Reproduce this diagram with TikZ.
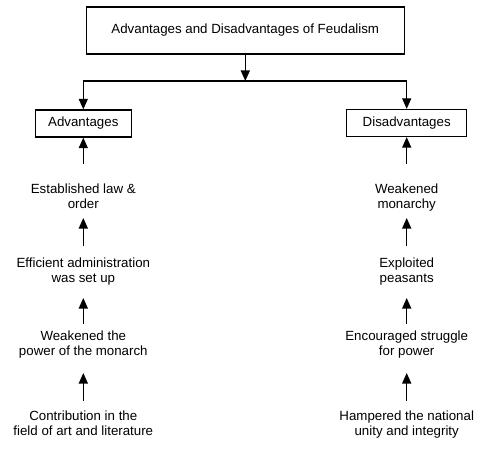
\documentclass[tikz,border=0pt]{standalone}
\usepackage{fontspec}
\setmainfont{Liberation Sans}
\usetikzlibrary{arrows.meta}

\begin{document}
\begin{tikzpicture}[x=1pt,y=-1pt,line width=1.3pt,
    box/.style={draw,rectangle,inner sep=0pt,font=\fontsize{13.3}{15}\selectfont},
    item/.style={align=center,anchor=north,inner sep=0pt,font=\fontsize{13.3}{15}\selectfont},
    arr/.style={-{Triangle[length=10.5pt,width=9pt]}}]
    \useasboundingbox (0,0) rectangle (489,454);
    \node[box,minimum width=318pt,minimum height=47pt] (title) at (245.3,30.5)
      {Advantages and Disadvantages of Feudalism};
    \node[box,minimum width=96pt,minimum height=27pt] (adv) at (83.3,123.5) {Advantages};
    \node[box,minimum width=120pt,minimum height=27pt] (dis) at (406.7,123) {Disadvantages};
    \coordinate (split) at (245.3,81);
    \draw[arr] (title.south) -- (split);
    \draw[arr] (split) -| (adv.north);
    \draw[arr] (split) -| (dis.north);
    \foreach \n/\y/\advtxt/\distxt in {
     1/183/{Established law \&\\order}/{Weakened\\monarchy},
     2/257/{Efficient administration\\was set up}/{Exploited\\peasants},
     3/330/{Weakened the\\power of the monarch}/{Encouraged struggle\\for power},
     4/410/{Contribution in the\\field of art and literature}/{Hampered the national\\unity and integrity}} {
      \node[item] (a\n) at (83.3,\y) {\advtxt};
      \node[item] (d\n) at (406.7,\y) {\distxt};
     }
    \draw[arr] ([yshift=19pt]a1.north) -- (adv.south);
    \draw[arr] ([yshift=19pt]d1.north) -- (dis.south);
    \foreach \i/\j/\s/\e in {2/1/11/35, 3/2/6/41, 4/3/9/43} {
      \draw[arr] ([yshift=\s pt]a\i.north) -- ([yshift=-\e pt]a\j.north);
      \draw[arr] ([yshift=\s pt]d\i.north) -- ([yshift=-\e pt]d\j.north);
     }
\end{tikzpicture}
\end{document}
